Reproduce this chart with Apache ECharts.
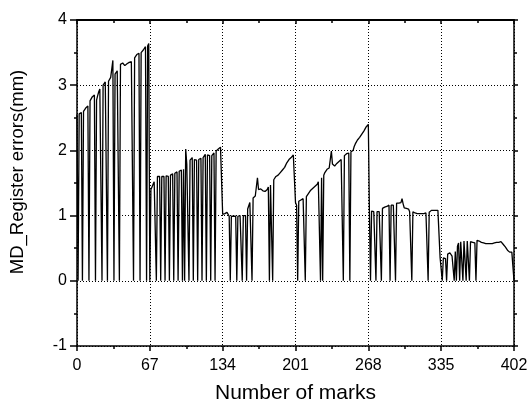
<!DOCTYPE html>
<html>
<head>
<meta charset="utf-8">
<script src="https://cdn.jsdelivr.net/npm/echarts@6/dist/echarts.min.js"></script>
<style>
  html, body { margin: 0; padding: 0; background: #fff; }
  #chart { width: 528px; height: 403px; }
</style>
</head>
<body>
<div id="chart"></div>
<script type="text/javascript">
// x tick labels (mark number)
var xTicks = [0, 67, 134, 201, 268, 335, 402];

// register error per mark
var seg1 = [2.55, 0, 2.56, 2.57, 2.58, 0, 2.6, 2.62, 2.65, 2.66,
  2.68, 0, 2.76, 2.79, 2.82, 2.84, 2.85, 0, 2.77, 2.84,
  2.9, 2.94, 2.96, 0, 3.0, 3.03, 3.05, 3.04, 0, 3.06,
  3.09, 3.12, 3.14, 3.38, 0, 3.17, 3.2, 3.22, 3.23, 0,
  3.32, 3.33, 3.34, 3.33, 3.3, 3.31, 3.33, 3.34, 3.35, 3.34,
  3.36, 3.37, 0, 3.42, 3.45, 3.47, 3.48, 3.49, 0, 3.5,
  3.52, 3.54, 3.57, 3.59, 0, 3.6, 3.64, 0];
var seg2 = [1.40, 1.44, 1.48, 1.52, 1.54, 0, 1.6, 1.61, 1.6, 0,
  1.6, 1.61, 1.6, 0, 1.61, 1.6, 1.6, 0, 1.62, 1.64,
  1.64, 0, 1.65, 1.66, 1.67, 0, 1.68, 1.69, 1.7, 0,
  1.71, 0, 2.02, 1.79, 1.82, 0, 1.85, 1.87, 1.89, 0,
  1.86, 1.84, 1.85, 0, 1.86, 1.87, 1.88, 0, 1.89, 1.91,
  1.94, 0, 1.93, 1.92, 1.92, 0, 1.92, 1.94, 1.96, 0,
  1.99, 2.0, 2.02, 2.04, 2.05, 2.03];
var seg3 = [1.02, 1.04, 1.03, 1.04, 1.05, 1.02, 0.99, 0, 0.99, 1.0,
  0.99, 1.0, 0.99, 0, 0.99, 1.0, 1.0, 0.98, 0, 1.0,
  1.01, 1.0, 0, 1.1, 1.15, 1.2, 1.23, 0, 1.27, 1.28,
  1.3, 1.31, 1.58, 1.40, 1.42, 1.41, 1.40, 1.38, 1.36, 1.37,
  1.35, 1.40, 1.44, 0, 1.47, 1.49, 0, 1.55, 1.58, 1.60,
  1.61, 1.62, 1.64, 1.66, 1.68, 1.70, 1.72, 1.74, 1.77, 1.81,
  1.84, 1.86, 1.88, 1.89, 1.91, 1.93, 1.94];
var seg4 = [1.20, 1.16, 0, 1.22, 1.25, 1.24, 1.26, 1.26, 1.27, 0,
  1.29, 1.31, 1.34, 1.37, 1.39, 1.41, 1.42, 1.43, 1.45, 1.46,
  1.48, 1.52, 1.55, 0, 1.58, 0, 1.62, 1.66, 1.69, 1.71,
  1.72, 1.73, 1.74, 1.99, 1.79, 1.77, 1.76, 1.78, 1.80, 1.81,
  1.83, 1.85, 1.86, 1.88, 0, 1.92, 1.94, 1.95, 1.96, 1.96,
  0, 1.98, 1.99, 2.0, 2.06, 2.1, 2.13, 2.16, 2.18, 2.2,
  2.22, 2.25, 2.28, 2.3, 2.33, 2.36, 2.38, 2.40];
var seg5 = [1.06, 0, 1.07, 1.07, 1.06, 1.07, 0, 1.06, 1.07, 1.06,
  1.08, 0, 1.11, 1.12, 1.13, 1.12, 1.14, 1.15, 1.16, 0,
  1.16, 1.15, 1.16, 1.17, 0, 1.19, 1.2, 1.19, 1.21, 1.2,
  1.26, 1.18, 1.12, 1.1, 1.11, 1.12, 1.1, 1.06, 1.05, 0,
  1.06, 1.05, 1.04, 1.04, 1.03, 1.04, 1.03, 1.03, 1.03, 1.04,
  1.03, 1.03, 1.04, 1.04, 0, 1.05, 1.07, 1.08, 1.06, 1.08,
  1.09, 1.08, 1.07, 1.08, 1.08];
var seg6 = [0.36, 0.37, 0, 0.35, 0.33, 0.34, 0, 0.41, 0.44, 0.43,
  0.4, 0.38, 0.37, 0, 0.45, 0, 0.53, 0.58, 0, 0.6,
  0.61, 0, 0.61, 0.6, 0, 0.61, 0.6, 0, 0.6, 0.61,
  0.59, 0.56, 0.58, 0, 0.62, 0.6, 0.61, 0.6, 0.59, 0.59,
  0.58, 0.58, 0.57, 0.57, 0.57, 0.57, 0.57, 0.58, 0.57, 0.58,
  0.58, 0.58, 0.59, 0.59, 0.59, 0.6, 0.6, 0.58, 0.56, 0.54,
  0.52, 0.49, 0.47, 0.46, 0.44, 0.43, 0.44, 0.45, 0];

var errors = seg1.concat(seg2, seg3, seg4, seg5, seg6);
var lineData = errors.map(function (v, i) { return [i, v]; });

var font = 'Liberation Sans, Arial, sans-serif';
var dotted = { show: true, lineStyle: { color: '#000', width: 1, type: [1, 2] } };

var myChart = echarts.init(document.getElementById('chart'), null, { renderer: 'canvas' });
var option = {
  animation: false,
  backgroundColor: '#fff',
  grid: { left: 77, right: 14, top: 20, bottom: 57, containLabel: false, outerBoundsMode: 'none' },
  xAxis: [
    {
      type: 'value', min: xTicks[0], max: xTicks[xTicks.length - 1], interval: 67,
      name: 'Number of marks', nameLocation: 'middle', nameGap: 37,
      nameTextStyle: { fontFamily: font, fontSize: 21, color: '#000' },
      axisLine: { show: true, onZero: false, lineStyle: { color: '#000', width: 1.5 } },
      axisTick: { show: true, inside: false, length: 5, lineStyle: { color: '#000', width: 1.5 } },
      minorTick: { show: true, splitNumber: 2, length: 3, lineStyle: { color: '#000', width: 1.5 } },
      axisLabel: { fontFamily: font, fontSize: 16, color: '#000', margin: 12 },
      splitLine: dotted
    },
    {
      type: 'value', position: 'top', min: 0, max: 402, interval: 67,
      axisLine: { show: true, onZero: false, lineStyle: { color: '#000', width: 2 } },
      axisTick: { show: true, inside: true, length: 4, lineStyle: { color: '#000', width: 1.5 } },
      minorTick: { show: true, splitNumber: 2, length: 3, lineStyle: { color: '#000', width: 1.5 } },
      axisLabel: { show: false },
      splitLine: { show: false }
    }
  ],
  yAxis: [
    {
      type: 'value', min: -1, max: 4, interval: 1,
      name: 'MD_Register errors(mm)', nameLocation: 'middle', nameGap: 50,
      nameTextStyle: { fontFamily: font, fontSize: 18.5, color: '#000', padding: [0, 0, 0, 22] },
      axisLine: { show: true, onZero: false, lineStyle: { color: '#000', width: 1.5 } },
      axisTick: { show: true, inside: false, length: 7, lineStyle: { color: '#000', width: 1.5 } },
      minorTick: { show: true, splitNumber: 2, length: 3, lineStyle: { color: '#000', width: 1.5 } },
      axisLabel: { fontFamily: font, fontSize: 16, color: '#000', margin: 10 },
      splitLine: dotted
    },
    {
      type: 'value', position: 'right', min: -1, max: 4, interval: 1,
      axisLine: { show: true, onZero: false, lineStyle: { color: '#000', width: 1.5 } },
      axisTick: { show: true, inside: false, length: 4, lineStyle: { color: '#000', width: 1.5 } },
      minorTick: { show: true, splitNumber: 2, length: 3, lineStyle: { color: '#000', width: 1.5 } },
      axisLabel: { show: false },
      splitLine: { show: false }
    }
  ],
  series: [
    {
      name: 'MD_Register errors',
      type: 'line',
      data: lineData,
      showSymbol: false,
      symbol: 'none',
      lineStyle: { color: '#000', width: 1.3 },
      z: 3
    }
  ]
};
myChart.setOption(option);
</script>
</body>
</html>
